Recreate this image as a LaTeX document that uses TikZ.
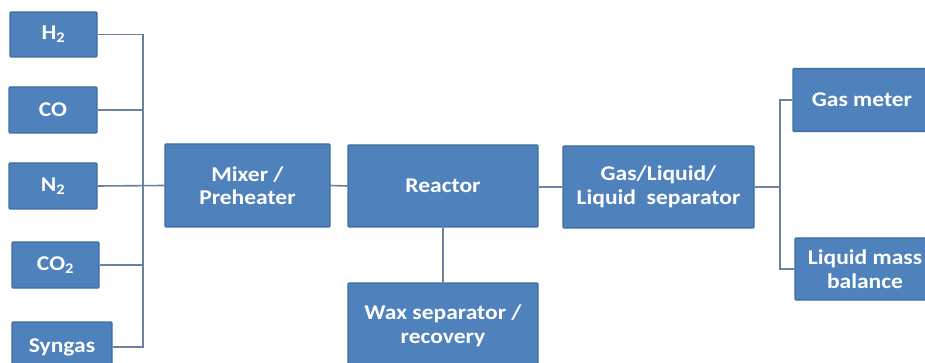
\documentclass[tikz,border=0pt]{standalone}
\usepackage{fontspec}
\setmainfont{Carlito}[FakeStretch=1.12]
\definecolor{boxfill}{HTML}{4F81BD}
\definecolor{boxedge}{HTML}{3F6C9E}
\definecolor{pipe}{HTML}{6A829B}
\begin{document}
\begin{tikzpicture}[x=1pt,y=-1pt,
  unit/.style={draw=boxedge,line width=1.2pt,fill=boxfill,text=white,
    font=\fontsize{21}{23.5}\selectfont\bfseries,align=center,inner sep=0pt,
    rounded corners=1pt},
  pipeline/.style={draw=pipe,line width=1.6pt}]
\useasboundingbox (0,0) rectangle (925,363);
% feed gases
\node[unit,minimum width=87pt,minimum height=45pt] (h2) at (53.5,34.5) {H\textsubscript{2}};
\node[unit,minimum width=88pt,minimum height=46pt] (co) at (53,110) {CO};
\node[unit,minimum width=88pt,minimum height=46pt] (n2) at (53,186) {N\textsubscript{2}};
\node[unit,minimum width=87pt,minimum height=46pt] (co2) at (55.5,265) {CO\textsubscript{2}};
\node[unit,minimum width=100pt,minimum height=50pt] (syn) at (62,347) {Syngas};
% process train
\node[unit,minimum width=165pt,minimum height=83pt] (mix) at (247.5,185.5) {Mixer /\\Preheater};
\node[unit,minimum width=190pt,minimum height=82pt] (reac) at (443,186) {Reactor};
\node[unit,minimum width=190pt,minimum height=86pt] (wax) at (443,326) {Wax separator /\\recovery};
\node[unit,minimum width=191pt,minimum height=82pt] (sep) at (658.5,187) {Gas/Liquid/\\Liquid\ \ separator};
\node[unit,minimum width=138pt,minimum height=63pt] (gm) at (862,100) {Gas meter};
\node[unit,minimum width=140pt,minimum height=62pt] (lmb) at (865,269) {Liquid mass\\balance};
% inlet manifold
\coordinate (busT) at (143,34.5);
\coordinate (busB) at (143,347);
\draw[pipeline] (h2.east) -- (busT) -- (busB) -- (syn.east);
\draw[pipeline] (co.east) -- (co.east -| busT);
\draw[pipeline] (co2.east) -- (co2.east -| busT);
\draw[pipeline] (n2.east) -- (mix.west);
% main line
\draw[pipeline] (mix.east) -- (reac.west);
\draw[pipeline] (reac.east |- sep.west) -- (sep.west);
\draw[pipeline] (reac.south) -- (wax.north);
% outlet split
\coordinate (splitT) at (780,100);
\coordinate (splitB) at (780,269);
\draw[pipeline] (sep.east) -- (sep.east -| splitT);
\draw[pipeline] (gm.west) -- (splitT) -- (splitB) -- (lmb.west);
\end{tikzpicture}
\end{document}
